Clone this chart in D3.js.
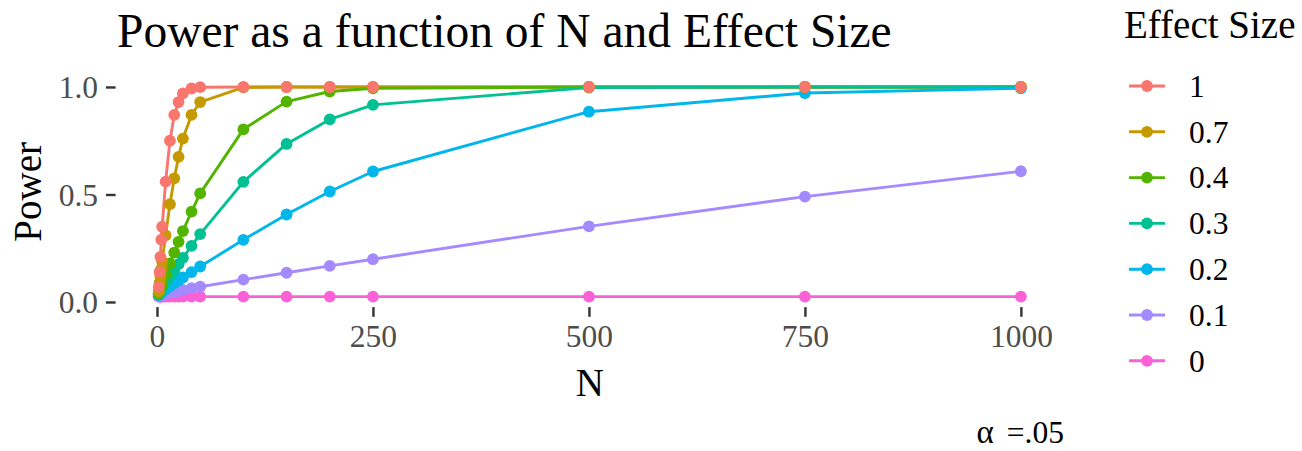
<!DOCTYPE html>
<html>
<head>
<meta charset="utf-8">
<script src="https://cdn.jsdelivr.net/npm/d3@7"></script>
<style>
  html, body { margin: 0; padding: 0; background: #ffffff; }
  svg { display: block; }
  text { font-family: "Liberation Serif", "Times New Roman", serif; }
</style>
</head>
<body>
<svg id="chart" width="1302" height="451"></svg>
<script>
// ---- data ----
const sampleSizes = [2, 3, 4, 5, 6, 10, 15, 20, 25, 30, 40, 50, 100, 150, 200, 250, 500, 750, 1000];
const effectSizes = ["1", "0.7", "0.4", "0.3", "0.2", "0.1", "0"];
const powerD10 = [0.07, 0.14, 0.21, 0.29, 0.35, 0.56, 0.75, 0.87, 0.93, 0.97, 0.993, 0.999, 1, 1, 1, 1, 1, 1, 1];
const powerD07 = [0.05, 0.09, 0.12, 0.155, 0.19, 0.31, 0.455, 0.575, 0.675, 0.76, 0.87, 0.93, 0.998, 1, 1, 1, 1, 1, 1];
const powerD04 = [0.04, 0.052, 0.064, 0.075, 0.087, 0.127, 0.18, 0.23, 0.28, 0.33, 0.42, 0.505, 0.803, 0.932, 0.979, 0.994, 1, 1, 1];
const powerD03 = [0.036, 0.044, 0.051, 0.058, 0.065, 0.09, 0.12, 0.148, 0.176, 0.205, 0.261, 0.316, 0.559, 0.735, 0.849, 0.917, 0.997, 1, 1];
const powerD02 = [0.032, 0.036, 0.041, 0.044, 0.048, 0.059, 0.074, 0.088, 0.101, 0.114, 0.139, 0.165, 0.289, 0.407, 0.514, 0.607, 0.885, 0.972, 0.994];
const powerD01 = [0.027, 0.028, 0.029, 0.03, 0.031, 0.038, 0.044, 0.048, 0.052, 0.056, 0.064, 0.071, 0.104, 0.136, 0.168, 0.199, 0.352, 0.49, 0.608];
const powerD00 = [0.025, 0.025, 0.025, 0.025, 0.025, 0.025, 0.025, 0.025, 0.025, 0.025, 0.025, 0.025, 0.025, 0.025, 0.025, 0.025, 0.025, 0.025, 0.025];
const seriesColors = ["#F8766D", "#C49A00", "#53B400", "#00C094", "#00B6EB", "#A58AFF", "#FB61D7"];
const xTicks = [0, 250, 500, 750, 1000];
const yTicks = [0, 0.5, 1];
const titleText = "Power as a function of N and Effect Size";
const xTitle = "N";
const yTitle = "Power";
const legendTitle = "Effect Size";
const captionSymbol = "\u03B1";
const captionText = "=.05";

const powerSeries = [powerD10, powerD07, powerD04, powerD03, powerD02, powerD01, powerD00];
const series = effectSizes.map((es, i) => ({
  key: es,
  color: seriesColors[i],
  values: sampleSizes.map((n, j) => ({ n: n, p: powerSeries[i][j] }))
}));

// ---- layout ----
const svg = d3.select("#chart");
const panel = { left: 115.6, right: 1064, top: 76.5, bottom: 307.1 };

const allN = sampleSizes;
const allP = powerSeries.flat();
const xExt = d3.extent(allN), yExt = d3.extent(allP);
const xPad = (xExt[1] - xExt[0]) * 0.05, yPad = (yExt[1] - yExt[0]) * 0.05;

const x = d3.scaleLinear().domain([xExt[0] - xPad, xExt[1] + xPad]).range([panel.left, panel.right]);
const y = d3.scaleLinear().domain([yExt[0] - yPad, yExt[1] + yPad]).range([panel.bottom, panel.top]);

const tickLen = 9.7, tickPad = 7.8;

// axes
const yAxis = d3.axisLeft(y).tickValues(yTicks).tickFormat(d3.format(".1f")).tickSize(tickLen).tickPadding(tickPad);
const gy = svg.append("g").attr("transform", `translate(${panel.left},0)`).call(yAxis);
const xAxis = d3.axisBottom(x).tickValues(xTicks).tickFormat(d3.format("d")).tickSize(tickLen).tickPadding(tickPad);
const gx = svg.append("g").attr("transform", `translate(0,${panel.bottom})`).call(xAxis);

[gx, gy].forEach(g => {
  g.select(".domain").remove();
  g.selectAll(".tick line").attr("stroke", "#333333").attr("stroke-width", 2.4);
  g.selectAll(".tick text").attr("fill", "#4D4D4D").style("font-size", "31.5px")
    .style("font-family", "'Liberation Serif', serif");
});
gy.selectAll(".tick text").attr("dy", "0.34em");
gx.selectAll(".tick text").attr("dy", "0.72em");

// lines (group order)
const line = d3.line().x(d => x(d.n)).y(d => y(d.p));
svg.append("g").selectAll("path").data(series).join("path")
  .attr("d", d => line(d.values))
  .attr("fill", "none")
  .attr("stroke", d => d.color)
  .attr("stroke-width", 2.9)
  .attr("stroke-linejoin", "round");

// points (drawn with the last series first, so "1" ends up on top)
const ptsG = svg.append("g");
series.slice().reverse().forEach(s => {
  ptsG.append("g").selectAll("circle").data(s.values).join("circle")
    .attr("cx", d => x(d.n))
    .attr("cy", d => y(d.p))
    .attr("r", 5.9)
    .attr("fill", s.color);
});

// titles
svg.append("text").attr("x", 117).attr("y", 47).attr("fill", "#000")
  .style("font-size", "47.5px").text(titleText);
svg.append("text").attr("x", (panel.left + panel.right) / 2).attr("y", 396)
  .attr("text-anchor", "middle").attr("fill", "#000").style("font-size", "39px").text(xTitle);
svg.append("text").attr("transform", `translate(41,${(panel.top + panel.bottom) / 2}) rotate(-90)`)
  .attr("text-anchor", "middle").attr("fill", "#000").style("font-size", "39px").text(yTitle);
const cap = svg.append("text").attr("x", panel.right).attr("y", 443).attr("text-anchor", "end")
  .attr("fill", "#000").style("font-size", "31.5px");
cap.append("tspan").style("font-size", "33px").text(captionSymbol);
cap.append("tspan").attr("dx", 13).text(captionText);

// legend
const lg = svg.append("g");
lg.append("text").attr("x", 1124).attr("y", 37.5).attr("fill", "#000")
  .style("font-size", "39px").text(legendTitle);
const rowY = i => 86 + i * 45.8;
const rows = lg.selectAll("g.row").data(series).join("g").attr("class", "row")
  .attr("transform", (d, i) => `translate(0,${rowY(i)})`);
rows.append("line").attr("x1", 1129).attr("x2", 1165).attr("y1", 0).attr("y2", 0)
  .attr("stroke", d => d.color).attr("stroke-width", 2.9);
rows.append("circle").attr("cx", 1147).attr("cy", 0).attr("r", 5.9).attr("fill", d => d.color);
rows.append("text").attr("x", 1189).attr("y", 0).attr("dy", "0.34em").attr("fill", "#000")
  .style("font-size", "31.5px").text(d => d.key);
</script>
</body>
</html>
